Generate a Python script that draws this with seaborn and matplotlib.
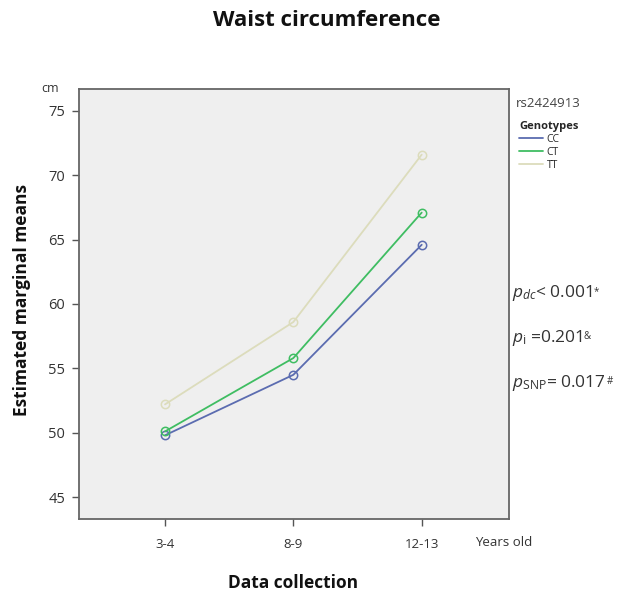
import matplotlib
matplotlib.use("Agg")
import matplotlib.pyplot as plt
import seaborn as sns
import pandas as pd
from matplotlib.lines import Line2D

collections = ["3-4", "8-9", "12-13"]
genotypes = ["CC", "CT", "TT"]
cc_values = [49.8, 54.5, 64.6]
ct_values = [50.1, 55.8, 67.1]
tt_values = [52.2, 58.6, 71.6]
y_ticks = [45, 50, 55, 60, 65, 70, 75]
colors = {"CC": "#5b6cb0", "CT": "#3fbd62", "TT": "#dcdcbc"}

rows = []
for g, vals in zip(genotypes, [cc_values, ct_values, tt_values]):
    for c, v in zip(collections, vals):
        rows.append({"collection": c, "genotype": g, "value": v})
df = pd.DataFrame(rows)

sns.set_theme(style="white")
plt.rcParams['font.family'] = ['Open Sans', 'DejaVu Sans']
plt.rcParams['mathtext.fontset'] = 'custom'
plt.rcParams['mathtext.rm'] = 'Open Sans'
plt.rcParams['mathtext.it'] = 'Open Sans:italic'

fig = plt.figure(figsize=(6.3, 5.96), dpi=100)
ax = fig.add_axes([0.1254, 0.1292, 0.6825, 0.7215])
ax.set_facecolor("#efefef")

sns.lineplot(data=df, x="collection", y="value", hue="genotype", hue_order=genotypes,
             palette=colors, marker="o", markersize=6, markerfacecolor="none",
             markeredgewidth=1.1, linewidth=1.3, ax=ax, sort=False, legend=False)
for line in ax.lines:
    line.set_markeredgecolor(line.get_color())

ax.set_xlim(-0.67, 2.68)
ax.set_ylim(43.3, 76.7)
ax.set_yticks(y_ticks)
ax.set_yticklabels([str(t) for t in y_ticks], fontsize=10.5, color="#333333")
ax.set_xticks(range(len(collections)))
ax.set_xticklabels(collections, fontsize=9.5, color="#333333")
ax.tick_params(axis="both", direction="out", length=5, width=1, color="#555555",
               left=True, bottom=True, pad=5)
ax.tick_params(axis="x", pad=9)
for s in ax.spines.values():
    s.set_color("#666666")
    s.set_linewidth(1.3)
ax.set_xlabel("")
ax.set_ylabel("")

fig.text(0.518, 0.966, "Waist circumference", ha="center", va="center",
         fontsize=16, fontweight="bold", color="#111111")
fig.text(0.035, 0.497, "Estimated marginal means", ha="center", va="center",
         rotation=90, fontsize=12.5, fontweight="bold", color="#111111")
fig.text(0.465, 0.021, "Data collection", ha="center", va="center",
         fontsize=12.5, fontweight="bold", color="#111111")
fig.text(0.079, 0.852, "cm", ha="center", va="center", fontsize=9, color="#333333")
fig.text(0.754, 0.090, "Years old", ha="left", va="center", fontsize=9.5, color="#333333")

fig.text(0.819, 0.827, "rs2424913", ha="left", va="center", fontsize=9.5, color="#444444")
handles = [Line2D([], [], color=colors[g], lw=1.3) for g in genotypes]
leg = fig.legend(handles, genotypes, loc="upper left", bbox_to_anchor=(0.813, 0.81),
                 frameon=False, fontsize=7.5, title="Genotypes", handlelength=2.3,
                 handletextpad=0.3, labelspacing=0.2, borderpad=0.2)
leg.get_title().set_fontsize(8)
leg.get_title().set_fontweight("bold")
leg._legend_box.align = "left"

ptexts = [(r"$\it{p}_{\it{dc}}$< 0.001", "*", 0.508),
          (r"$\it{p}_{\rm{i}}$ =0.201", "&", 0.433),
          (r"$\it{p}_{\rm{SNP}}$= 0.017", "#", 0.357)]
for main, sup, yy in ptexts:
    t = fig.text(0.812, yy, main, ha="left", va="center", fontsize=12.5, color="#333333")
    fig.canvas.draw()
    ax.annotate(sup, xy=(1.0, 1.0), xycoords=t, xytext=(1, -2), textcoords="offset points",
                ha="left", va="top", fontsize=7, color="#333333", annotation_clip=False)

fig.savefig("out.png", dpi=100)
